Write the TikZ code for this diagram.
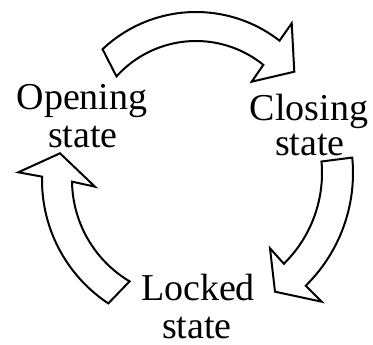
\documentclass[tikz,border=0pt]{standalone}
\usepackage{fontspec}
\setmainfont{Liberation Serif}
\begin{document}
\begin{tikzpicture}[x=1pt,y=-1pt,
  blockarrow/.style={draw=black,line width=2pt,fill=white,line join=miter},
  lbl/.style={inner sep=0pt,anchor=base,font=\fontsize{38}{43}\selectfont}]
\useasboundingbox (0,0) rectangle (373,345);
% top arrow: Opening -> Closing
\draw[blockarrow]
  plot[domain=-133.4:-52.1,samples=40] ({196+136*cos(\x)},{148+136*sin(\x)})
  -- (291.7,23.3) -- (294.3,71.7) -- (251.7,81.7)
  -- plot[domain=-51:-138,samples=40] ({196+107*cos(\x)},{148+107*sin(\x)})
  -- cycle;
% right arrow: Closing -> Locked
\draw[blockarrow]
  plot[domain=-5.6:45.5,samples=40] ({195+158*cos(\x)},{173+158*sin(\x)})
  -- (321.7,301.7) -- (275,291.7) -- (270,248.3)
  -- plot[domain=45.6:-5.2,samples=40] ({195+127*cos(\x)},{173+127*sin(\x)})
  -- cycle;
% left arrow: Locked -> Opening
\draw[blockarrow]
  plot[domain=123.5:181.3,samples=40] ({190+148*cos(\x)},{180+148*sin(\x)})
  -- (18.3,172.3) -- (60,153.3) -- (95,186.7)
  -- plot[domain=179.2:120.8,samples=40] ({190+118*cos(\x)},{180+118*sin(\x)})
  -- cycle;
% labels
\node[lbl] (open1) at (82,110) {Opening};
\node[lbl] (open2) at (83,148) {state};
\node[lbl] (close1) at (309,121) {Closing};
\node[lbl] (close2) at (310,156) {state};
\node[lbl] (lock1) at (198,301) {Locked};
\node[lbl] (lock2) at (197,338) {state};
\end{tikzpicture}
\end{document}
